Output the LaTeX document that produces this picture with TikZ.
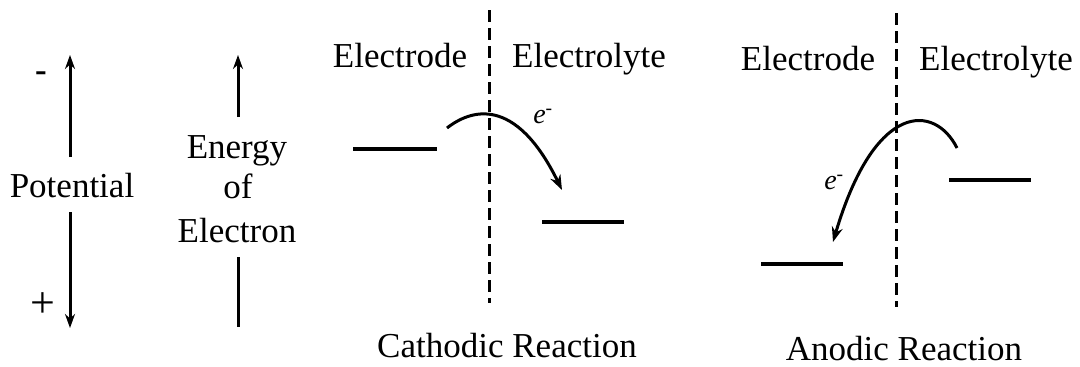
\documentclass[tikz,border=0pt]{standalone}
\usepackage{fontspec}
\setmainfont{Liberation Serif}
\newfontfamily\tnr{Liberation Serif}
\usetikzlibrary{arrows.meta}
\begin{document}
\begin{tikzpicture}[x=1pt,y=-1pt,
  lbl/.style={font=\tnr\fontsize{35}{38}\selectfont, inner sep=0pt, anchor=base},
  elbl/.style={font=\tnr\fontsize{28}{30}\selectfont\itshape, inner sep=0pt},
  level/.style={line width=3.4pt},
  axis/.style={line width=3pt},
  tip/.style={-{Stealth[length=14pt,width=10pt]}},
  iface/.style={line width=3pt, dash pattern=on 12pt off 6pt},
  flow/.style={line width=3pt, -{Stealth[length=15pt,width=11pt]}}]
\useasboundingbox (0,0) rectangle (1080,367);

% Potential axis
\node[lbl] (pot) at (72,197) {Potential};
\node[lbl, font=\tnr\fontsize{35}{38}\selectfont\bfseries] (minus) at (41,81) {-};
\node[inner sep=0pt, font=\tnr\fontsize{44}{46}\selectfont] (plus) at (43,305) {+};
\coordinate (potTop) at (70,55);
\coordinate (potA) at (70,157);
\coordinate (potB) at (70,212);
\coordinate (potBot) at (70,328);
\draw[axis,tip] (potA) -- (potTop);
\draw[axis,tip] (potB) -- (potBot);

% Energy axis
\node[lbl] (en1) at (237,158) {Energy};
\node[lbl] (en2) at (238,198) {of};
\node[lbl] (en3) at (237,242) {Electron};
\coordinate (enTop) at (238,55);
\coordinate (enA) at (238,117);
\coordinate (enB) at (238,257);
\coordinate (enBot) at (238,327);
\draw[axis,tip] (enA) -- (enTop);
\draw[axis] (enB) -- (enBot);

% Cathodic
\coordinate (cT) at (489,10);
\coordinate (cB) at (489,303);
\draw[iface] (cT) -- (cB);
\node[lbl] (cEl) at (400,67) {Electrode};
\node[lbl] (cEy) at (589,67) {Electrolyte};
\coordinate (cL1) at (353,149);
\coordinate (cL2) at (437,149);
\draw[level] (cL1) -- (cL2);
\coordinate (cR1) at (542,222);
\coordinate (cR2) at (624,222);
\draw[level] (cR1) -- (cR2);
\coordinate (cS) at (447,128);
\coordinate (cE) at (562,190);
\draw[flow] (cS) .. controls (470,110) and (515,94) .. (cE);
\node[elbl] (ce) at (543,116) {e\textsuperscript{-}};
\node[lbl] (cath) at (507,357) {Cathodic Reaction};

% Anodic
\coordinate (aT) at (896,13);
\coordinate (aB) at (896,307);
\draw[iface] (aT) -- (aB);
\node[lbl] (aEl) at (808,70) {Electrode};
\node[lbl] (aEy) at (996,70) {Electrolyte};
\coordinate (aR1) at (949,180);
\coordinate (aR2) at (1031,180);
\draw[level] (aR1) -- (aR2);
\coordinate (aL1) at (761,264);
\coordinate (aL2) at (843,264);
\draw[level] (aL1) -- (aL2);
\coordinate (aS) at (957,148);
\coordinate (aE) at (833,242);
\draw[flow] (aS) .. controls (935,104) and (875,100) .. (aE);
\node[elbl] (ae) at (834,182) {e\textsuperscript{-}};
\node[lbl] (anod) at (904,360) {Anodic Reaction};
\end{tikzpicture}
\end{document}
